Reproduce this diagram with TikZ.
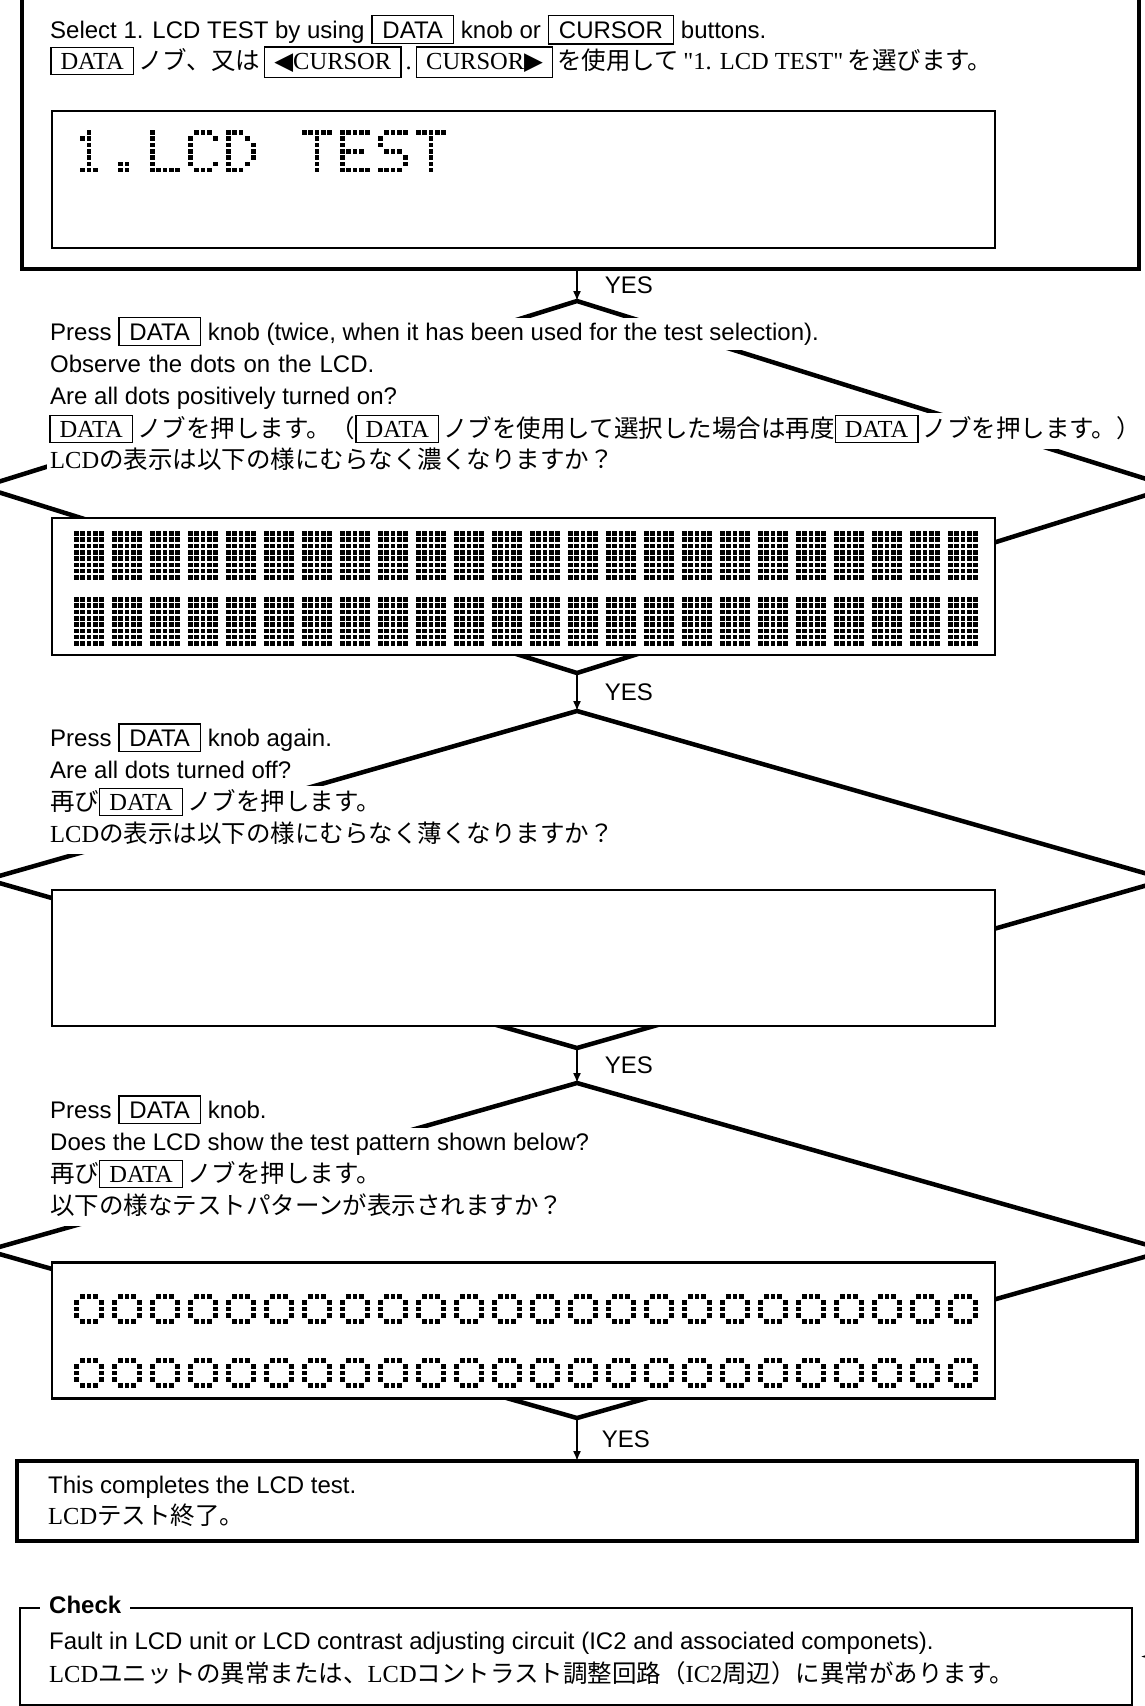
\documentclass[tikz,border=0pt]{standalone}
\usepackage{fontspec}
\setmainfont{Liberation Serif}
\setsansfont{Liberation Sans}
\newfontfamily\latfont{Liberation Serif}
\newfontfamily\jpfont{Noto Sans CJK JP}
\newfontfamily\symfont{DejaVu Sans}
\usetikzlibrary{shapes.geometric, arrows.meta, positioning}

\setlength{\fboxsep}{5pt}
\setlength{\fboxrule}{1.3pt}
\newcommand{\keyen}[1]{\fbox{\hspace{5pt}#1\hspace{5pt}}}
\newcommand{\keyjp}[1]{\fbox{\hspace{4pt}\latfont #1\hspace{4pt}}}
\newcommand{\lat}[1]{{\latfont #1}}

% LCD dot matrix
\newcommand{\DotPitch}{6.3}
\newcommand{\DotSize}{4.6}
\newcommand{\CellPitch}{38}
\newcommand{\CellX}{74}
\newcommand{\GlyphOne}{2/0,1/1,2/1,2/2,2/3,2/4,2/5,1/6,2/6,3/6}
\newcommand{\GlyphDot}{1/5,2/5,1/6,2/6}
\newcommand{\GlyphL}{0/0,0/1,0/2,0/3,0/4,0/5,0/6,1/6,2/6,3/6,4/6}
\newcommand{\GlyphC}{1/0,2/0,3/0,0/1,4/1,0/2,0/3,0/4,0/5,4/5,1/6,2/6,3/6}
\newcommand{\GlyphD}{0/0,1/0,2/0,0/1,3/1,0/2,4/2,0/3,4/3,0/4,4/4,0/5,3/5,0/6,1/6,2/6}
\newcommand{\GlyphT}{0/0,1/0,2/0,3/0,4/0,2/1,2/2,2/3,2/4,2/5,2/6}
\newcommand{\GlyphE}{0/0,1/0,2/0,3/0,4/0,0/1,0/2,0/3,1/3,2/3,3/3,0/4,0/5,0/6,1/6,2/6,3/6,4/6}
\newcommand{\GlyphS}{1/0,2/0,3/0,4/0,0/1,0/2,1/3,2/3,3/3,4/4,4/5,0/6,1/6,2/6,3/6}
\newcommand{\GlyphZero}{1/0,2/0,3/0,0/1,4/1,0/2,4/2,0/3,4/3,1/4,2/4,3/4}
\newcommand{\LcdChar}[3]{%
  \foreach \dc/\dr in #3 {
    \fill[lcddot] ({\CellX+#1*\CellPitch+\dc*\DotPitch},{#2+\dr*\DotPitch}) rectangle ++(\DotSize,\DotSize);
  }%
}
\newcommand{\LcdFull}[2]{%
  \foreach \dc in {0,...,4} {\foreach \dr in {0,...,7} {
    \fill[lcddot] ({\CellX+#1*\CellPitch+\dc*\DotPitch},{#2+\dr*\DotPitch}) rectangle ++(\DotSize,\DotSize);
  }}%
}

\begin{document}
\begin{tikzpicture}[
    x=1pt, y=-1pt,
    boxbase/.style={rectangle, inner sep=0pt, outer sep=0pt},
    outerbox/.style={boxbase, draw=black, line width=4.5pt, fill=white},
    lcdbox/.style={boxbase, draw=black, line width=2.6pt, fill=white},
    checkbox/.style={boxbase, draw=black, line width=2.5pt, fill=white},
    decide/.style={diamond, draw=black, line width=4.5pt, inner sep=0pt, outer sep=0pt},
    entxt/.style={anchor=base west, fill=white, inner xsep=3pt, inner ysep=2pt, text height=20pt, text depth=8pt, font=\sffamily\fontsize{24pt}{28pt}\selectfont},
    jptxt/.style={entxt, text height=22pt, text depth=10pt, font=\jpfont\fontsize{24.5pt}{28pt}\selectfont},
    checktitle/.style={entxt, inner xsep=9pt, font=\sffamily\bfseries\fontsize{24pt}{28pt}\selectfont},
    yeslbl/.style={midway, anchor=west, xshift=27pt, inner sep=0pt, font=\sffamily\fontsize{24pt}{28pt}\selectfont},
    arr/.style={-{Latex[length=10pt, width=8pt]}, line width=1.5pt},
    lcddot/.style={fill=black}
]
\useasboundingbox (0,0) rectangle (1145,1706);
\clip (0,0) rectangle (1145,1706);
\fill[white] (0,0) rectangle (1145,1706);

% 1. Test selection
\node[outerbox, minimum width=1117pt, minimum height=300pt, anchor=south west] (selbox) at (22,269) {};
\node[entxt] (selen) at (47,38) {Select 1. LCD TEST by using \keyen{DATA} knob or \keyen{CURSOR} buttons.};
\node[jptxt] (seljp) at (47,69) {\keyjp{DATA}\,ノブ、又は\,\keyjp{{\symfont ◀}CURSOR}\,\lat{.}\,\keyjp{CURSOR{\symfont ▶}}\,を使用して\,\lat{"1. LCD TEST"}\,を選びます。};
\node[lcdbox, minimum width=943pt, minimum height=137pt, anchor=north west] (lcdsel) at (52,111) {};
\LcdChar{0}{130}{\GlyphOne}
\LcdChar{1}{130}{\GlyphDot}
\LcdChar{2}{130}{\GlyphL}
\LcdChar{3}{130}{\GlyphC}
\LcdChar{4}{130}{\GlyphD}
\LcdChar{6}{130}{\GlyphT}
\LcdChar{7}{130}{\GlyphE}
\LcdChar{8}{130}{\GlyphS}
\LcdChar{9}{130}{\GlyphT}

% 2. Decisions (drawn first, text and LCDs lie on top)
\node[decide, minimum width=1190pt, minimum height=372pt] (dec1) at (577,487) {};
\node[decide, minimum width=1180pt, minimum height=337pt] (dec2) at (577,879.5) {};
\node[decide, minimum width=1180pt, minimum height=335pt] (dec3) at (577,1250.5) {};

% 3. All dots on
\node[lcdbox, minimum width=943pt, minimum height=137pt, anchor=north west] (lcdon) at (52,518) {};
\foreach \k in {0,...,23} {\LcdFull{\k}{531} \LcdFull{\k}{597}}
\node[entxt] (onen) at (47,340) {Press \keyen{DATA} knob (twice, when it has been used for the test selection).};
\node[entxt, text width=385pt, align=left] (onobs) at (47,372) {Observe the dots on the LCD.};
\node[entxt] (onask) at (47,404) {Are all dots positively turned on?};
\node[jptxt, inner xsep=1pt] (onjp) at (48,437) {\keyjp{DATA}\,ノブを押します。（\keyjp{DATA}\,ノブを使用して選択した場合は再度\keyjp{DATA}\,ノブを押します。）};
\node[jptxt] (onjpask) at (47,468) {\lat{LCD}の表示は以下の様にむらなく濃くなりますか？};

% 4. All dots off
\node[lcdbox, minimum width=943pt, minimum height=136pt, anchor=north west] (lcdoff) at (52,890) {};
\node[entxt] (offen) at (47,746) {Press \keyen{DATA} knob again.};
\node[entxt] (offask) at (47,778) {Are all dots turned off?};
\node[jptxt] (offjp) at (47,810) {再び\keyjp{DATA}\,ノブを押します。};
\node[jptxt] (offjpask) at (47,842) {\lat{LCD}の表示は以下の様にむらなく薄くなりますか？};

% 5. Test pattern
\node[lcdbox, minimum width=943pt, minimum height=136pt, anchor=north west] (lcdpat) at (52,1262.5) {};
\foreach \k in {0,...,23} {\LcdChar{\k}{1294}{\GlyphZero} \LcdChar{\k}{1358}{\GlyphZero}}
\node[entxt] (paten) at (47,1118) {Press \keyen{DATA} knob.};
\node[entxt] (patask) at (47,1150) {Does the LCD show the test pattern shown below?};
\node[jptxt] (patjp) at (47,1182) {再び\keyjp{DATA}\,ノブを押します。};
\node[jptxt] (patjpask) at (47,1214) {以下の様なテストパターンが表示されますか？};

% 6. End and check
\node[outerbox, line width=4pt, minimum width=1120pt, minimum height=80pt, anchor=north west] (donebox) at (17,1461) {};
\node[entxt] (doneen) at (45,1493) {This completes the LCD test.};
\node[jptxt] (donejp) at (45,1524) {\lat{LCD}テスト終了。};

\node[checkbox, minimum width=1112pt, minimum height=97pt, anchor=north west] (check) at (20,1608) {};
\node[checktitle] (checklbl) at (40,1613.6) {Check};
\node[entxt] (checken) at (46,1649.5) {Fault in LCD unit or LCD contrast adjusting circuit (IC2 and associated componets).};
\node[jptxt] (checkjp) at (46,1682) {\lat{LCD}ユニットの異常または、\lat{LCD}コントラスト調整回路（\lat{IC2}周辺）に異常があります。};
\coordinate (nofeed) at (1185,1656.5);

% Connections / Arrows
\draw[arr] (dec1.north |- selbox.south) -- (dec1.north) node[yeslbl] {YES};
\draw[arr] (dec1.south) -- (dec2.north) node[yeslbl] {YES};
\draw[arr] (dec2.south) -- (dec3.north) node[yeslbl] {YES};
\draw[arr] (dec3.south) -- (donebox.north) node[yeslbl, xshift=-3pt] {YES};
\draw[arr, shorten >=9pt] (nofeed) -- (check.east);

\end{tikzpicture}
\end{document}
